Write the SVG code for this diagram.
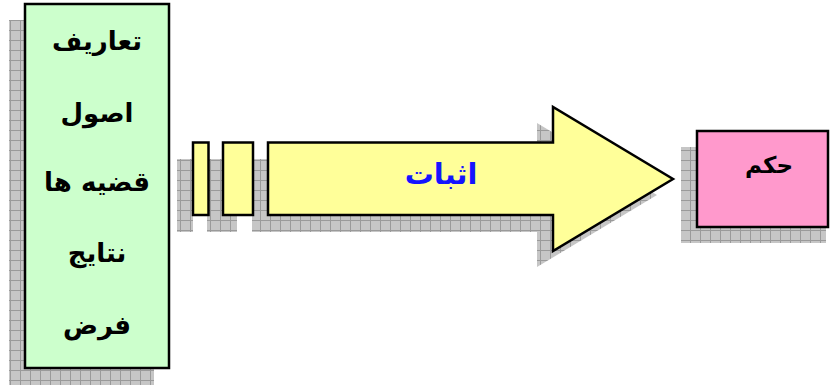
<svg xmlns="http://www.w3.org/2000/svg" width="832" height="387" viewBox="0 0 832 387">
<defs>
<pattern id="grid" width="10" height="10" patternUnits="userSpaceOnUse">
<rect width="10" height="10" fill="#c6c6c6"/>
<path d="M0 0.5H10M0.5 0V10" stroke="#9a9a9a" stroke-width="1" fill="none"/>
</pattern>
<style>
.sh{fill:url(#grid);stroke:none}
.box{stroke:#000;stroke-width:2.5}
.t{font-family:"DejaVu Sans",sans-serif;font-weight:bold;text-anchor:middle}
</style>
</defs>
<rect width="832" height="387" fill="#fff"/>
<g id="givens">
<rect class="sh" x="9" y="20" width="145" height="365"/>
<rect class="box" x="25" y="4" width="144" height="364" fill="#ccffcc"/>
<text class="t" x="97" y="50" font-size="26" direction="rtl">تعاريف</text>
<text class="t" x="97" y="122" font-size="26" direction="rtl">اصول</text>
<text class="t" x="97" y="191" font-size="26" direction="rtl">قضيه ها</text>
<text class="t" x="97" y="262" font-size="26" direction="rtl">نتايج</text>
<text class="t" x="97" y="334" font-size="26" direction="rtl">فرض</text>
</g>
<g id="proof">
<rect class="sh" x="177" y="159" width="16" height="73"/>
<rect class="sh" x="207" y="159" width="30" height="73"/>
<polygon class="sh" points="252,159 537,159 537,123 657,195 537,267 537,232 252,232"/>
<rect class="box" x="193" y="142.5" width="15.5" height="72.5" fill="#ffff99"/>
<rect class="box" x="223" y="142.5" width="30" height="72.5" fill="#ffff99"/>
<polygon class="box" points="268,142.5 553,142.5 553,107 673,179 553,251 553,215 268,215" fill="#ffff99" stroke-linejoin="miter"/>
<text class="t" x="441" y="184" font-size="29" fill="#1414ff" direction="rtl">اثبات</text>
</g>
<g id="judgment">
<rect class="sh" x="681" y="147" width="145" height="96"/>
<rect class="box" x="697" y="131" width="131" height="96" fill="#ff99cc"/>
<text class="t" x="769" y="173" font-size="23" direction="rtl">حكم</text>
</g>
</svg>
